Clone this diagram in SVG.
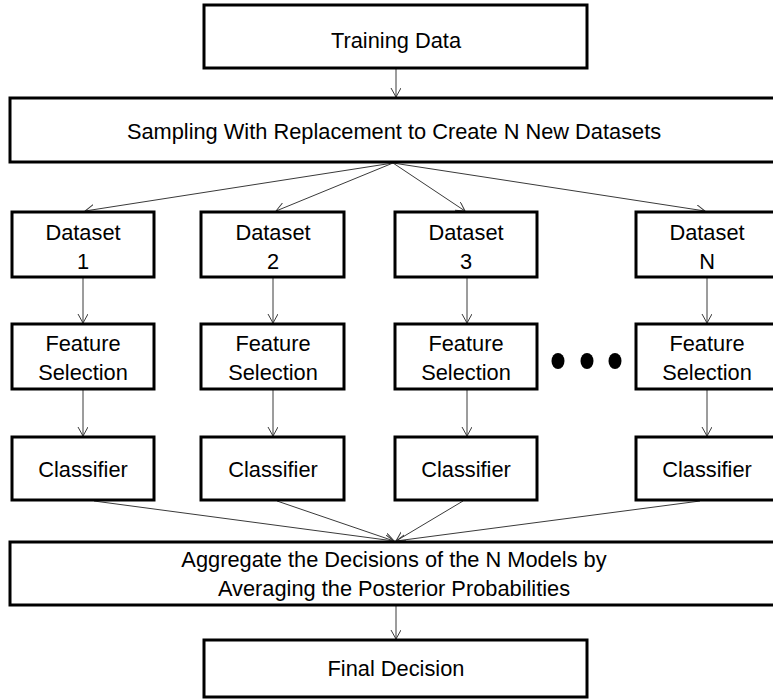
<svg xmlns="http://www.w3.org/2000/svg" width="773" height="700" viewBox="0 0 773 700">
<style>
.box{fill:#fff;stroke:#000;stroke-width:3}
.t{font-family:"Liberation Sans",Arial,sans-serif;font-size:21.8px;fill:#000;text-anchor:middle}
.c{stroke:#3a3a3a;stroke-width:1;fill:none;marker-end:url(#ah)}
</style>
<defs>
<marker id="ah" markerWidth="12" markerHeight="12" refX="9" refY="5" orient="auto" markerUnits="userSpaceOnUse">
<path d="M0,0 L9,5 L0,10" fill="none" stroke="#3a3a3a" stroke-width="1"/>
</marker>
</defs>
<rect width="773" height="700" fill="#fff"/>
<g id="connectors">
<line class="c" x1="396" y1="69" x2="396" y2="97"/>
<line class="c" x1="393" y1="163" x2="85" y2="211"/>
<line class="c" x1="393" y1="163" x2="276" y2="211"/>
<line class="c" x1="393" y1="163" x2="465" y2="211"/>
<line class="c" x1="393" y1="163" x2="705" y2="211"/>
<line class="c" x1="83" y1="278" x2="83" y2="323"/>
<line class="c" x1="273" y1="278" x2="273" y2="323"/>
<line class="c" x1="467" y1="278" x2="467" y2="323"/>
<line class="c" x1="707" y1="278" x2="707" y2="323"/>
<line class="c" x1="83" y1="390" x2="83" y2="436"/>
<line class="c" x1="273" y1="390" x2="273" y2="436"/>
<line class="c" x1="467" y1="390" x2="467" y2="436"/>
<line class="c" x1="707" y1="390" x2="707" y2="436"/>
<line class="c" x1="94" y1="501" x2="394" y2="541"/>
<line class="c" x1="277" y1="501" x2="394" y2="541"/>
<line class="c" x1="463" y1="501" x2="396" y2="541"/>
<line class="c" x1="700" y1="501" x2="396" y2="541"/>
<line class="c" x1="396" y1="606" x2="396" y2="639"/>
</g>
<g id="training-data"><rect class="box" x="204" y="5" width="383" height="63"/><text class="t" x="396" y="48">Training Data</text></g>
<g id="sampling"><rect class="box" x="10" y="98" width="780" height="64"/><text class="t" x="394" y="139">Sampling With Replacement to Create N New Datasets</text></g>
<g id="dataset-1"><rect class="box" x="12" y="212" width="142" height="65"/><text class="t" x="83" y="240">Dataset</text><text class="t" x="83" y="269">1</text></g>
<g id="dataset-2"><rect class="box" x="201" y="212" width="143" height="65"/><text class="t" x="273" y="240">Dataset</text><text class="t" x="273" y="269">2</text></g>
<g id="dataset-3"><rect class="box" x="395" y="212" width="142" height="65"/><text class="t" x="466" y="240">Dataset</text><text class="t" x="466" y="269">3</text></g>
<g id="dataset-n"><rect class="box" x="636" y="212" width="142" height="65"/><text class="t" x="707" y="240">Dataset</text><text class="t" x="707" y="269">N</text></g>
<g id="feature-1"><rect class="box" x="12" y="324" width="142" height="65"/><text class="t" x="83" y="351">Feature</text><text class="t" x="83" y="380">Selection</text></g>
<g id="feature-2"><rect class="box" x="201" y="324" width="143" height="65"/><text class="t" x="273" y="351">Feature</text><text class="t" x="273" y="380">Selection</text></g>
<g id="feature-3"><rect class="box" x="395" y="324" width="142" height="65"/><text class="t" x="466" y="351">Feature</text><text class="t" x="466" y="380">Selection</text></g>
<g id="feature-n"><rect class="box" x="636" y="324" width="142" height="65"/><text class="t" x="707" y="351">Feature</text><text class="t" x="707" y="380">Selection</text></g>
<g id="ellipsis"><ellipse cx="558" cy="361" rx="6.5" ry="8"/><ellipse cx="587" cy="361" rx="6.5" ry="8"/><ellipse cx="615" cy="361" rx="6.5" ry="8"/></g>
<g id="classifier-1"><rect class="box" x="12" y="437" width="142" height="63"/><text class="t" x="83" y="477">Classifier</text></g>
<g id="classifier-2"><rect class="box" x="201" y="437" width="143" height="63"/><text class="t" x="273" y="477">Classifier</text></g>
<g id="classifier-3"><rect class="box" x="395" y="437" width="142" height="63"/><text class="t" x="466" y="477">Classifier</text></g>
<g id="classifier-n"><rect class="box" x="636" y="437" width="142" height="63"/><text class="t" x="707" y="477">Classifier</text></g>
<g id="aggregate"><rect class="box" x="10" y="542" width="780" height="63"/><text class="t" x="394" y="567">Aggregate the Decisions of the N Models by</text><text class="t" x="394" y="596">Averaging the Posterior Probabilities</text></g>
<g id="final-decision"><rect class="box" x="204" y="640" width="383" height="57"/><text class="t" x="396" y="676">Final Decision</text></g>
</svg>
